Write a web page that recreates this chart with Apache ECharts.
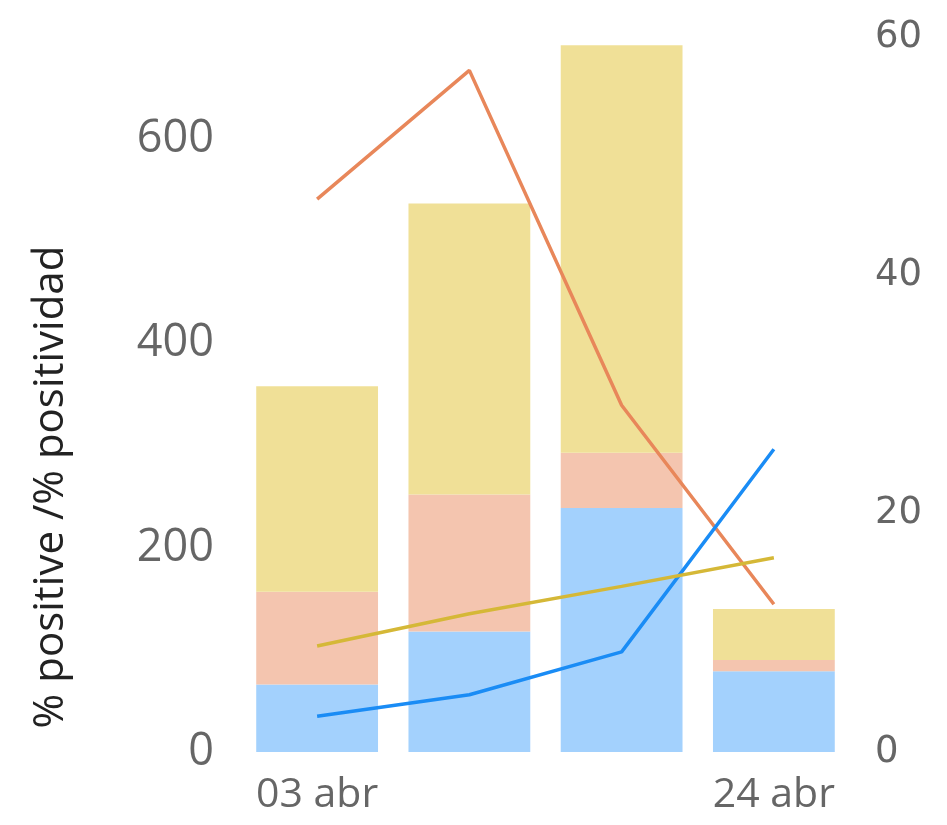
<!DOCTYPE html>
<html>
<head>
<meta charset="utf-8">
<script src="https://cdn.jsdelivr.net/npm/echarts@6/dist/echarts.min.js"></script>
<style>html,body{margin:0;padding:0;background:#fff;}#c{width:947px;height:825px;}</style>
</head>
<body>
<div id="c"></div>
<script>
const categories = ["03 abr", "10 abr", "17 abr", "24 abr"];
const barBlue = [66, 118, 239, 79];
const barPink = [91, 134, 54, 11];
const barYellow = [201, 285, 399, 50];
const lineOrange = [46.4, 57.2, 29.1, 12.4];
const lineBlue = [3.0, 4.8, 8.4, 25.4];
const lineYellow = [8.9, 11.6, 13.9, 16.3];
const leftTicks = [0, 200, 400, 600];
const rightTicks = [0, 20, 40, 60];
const yName = "% positive /% positividad";

const chart = echarts.init(document.getElementById('c'));
chart.setOption({
  animation: false,
  backgroundColor: '#fff',
  grid: { left: 241, right: 97, top: 37, bottom: 73, containLabel: false },
  xAxis: {
    type: 'category',
    data: categories,
    axisLine: { show: false },
    axisTick: { show: false },
    axisLabel: {
      interval: function (i) { return i === 0 || i === categories.length - 1; },
      color: '#666', fontFamily: 'Open Sans', fontSize: 41, margin: 23
    }
  },
  yAxis: [{
    type: 'value', min: 0, max: 700, interval: 200,
    axisLine: { show: false }, axisTick: { show: false }, splitLine: { show: false },
    axisLabel: {
      showMaxLabel: false, color: '#666', fontFamily: 'Open Sans', fontSize: 45, margin: 27,
      formatter: function (v) { return leftTicks.indexOf(v) >= 0 ? String(v) : ''; }
    }
  }, {
    type: 'value', min: 0, max: 60, interval: 20, position: 'right',
    axisLine: { show: false }, axisTick: { show: false }, splitLine: { show: false },
    axisLabel: {
      color: '#666', fontFamily: 'DejaVu Sans', fontSize: 37, margin: 25,
      formatter: function (v) { return rightTicks.indexOf(v) >= 0 ? String(v) : ''; }
    }
  }],
  graphic: [{
    type: 'text', x: 51, y: 487, rotation: Math.PI / 2,
    style: { text: yName, font: '42px "Open Sans"', fill: '#222', align: 'center', verticalAlign: 'middle' }
  }],
  series: [
    { type: 'bar', stack: 'a', data: barBlue, barCategoryGap: '20%', itemStyle: { color: '#a3d1fd' } },
    { type: 'bar', stack: 'a', data: barPink, itemStyle: { color: '#f4c5af' } },
    { type: 'bar', stack: 'a', data: barYellow, itemStyle: { color: '#f0e097' } },
    { type: 'line', yAxisIndex: 1, data: lineOrange, showSymbol: false, lineStyle: { color: '#e8875a', width: 3.5 }, z: 5 },
    { type: 'line', yAxisIndex: 1, data: lineBlue, showSymbol: false, lineStyle: { color: '#1a8cf5', width: 3.5 }, z: 5 },
    { type: 'line', yAxisIndex: 1, data: lineYellow, showSymbol: false, lineStyle: { color: '#d5b837', width: 3.5 }, z: 5 }
  ]
});
</script>
</body>
</html>
